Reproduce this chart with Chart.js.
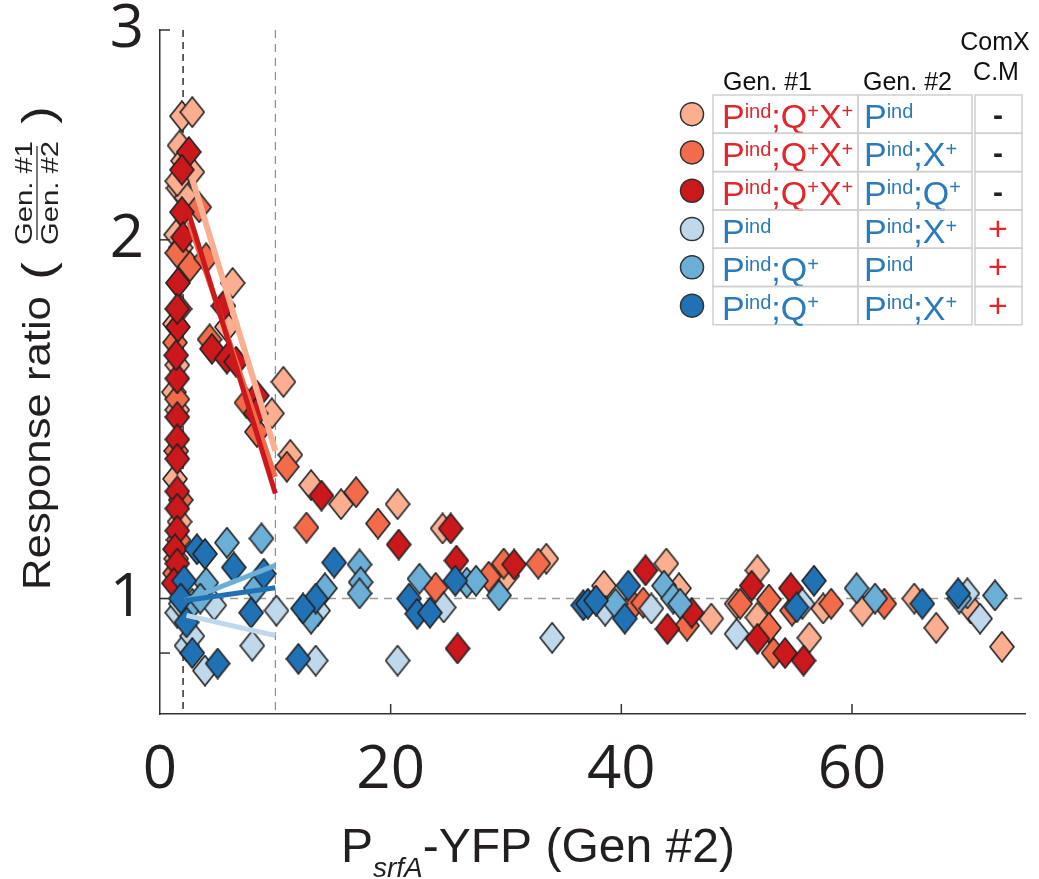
<!DOCTYPE html>
<html>
<head>
<meta charset="utf-8">
<script src="https://cdn.jsdelivr.net/npm/chart.js@4.4.0/dist/chart.umd.min.js"></script>
<style>
  html, body { margin: 0; padding: 0; background: #fff; }
  #wrap { width: 1039px; height: 879px; }
</style>
</head>
<body>
<div id="wrap"><canvas id="ratioChart" width="1039" height="879"></canvas></div>
<script>
  // colours of the six strain pairs (light red -> dark blue)
  const seriesColors = ['#fcae91', '#f26b4b', '#cb181d', '#c0d8eb', '#6baed6', '#2171b5'];

  // [PsrfA-YFP of Gen #2, response ratio Gen#1/Gen#2]
  const paleRed = [
    [1.9, 2.54], [2.8, 2.56], [1.7, 2.40], [2.0, 2.33], [2.8, 2.28], [1.6, 2.21], [2.3, 2.17], [1.5, 2.24],
    [1.4, 2.02], [1.8, 1.97], [1.3, 1.70], [1.5, 1.57], [1.2, 1.49], [1.5, 1.44], [1.3, 1.26], [1.7, 1.16],
    [1.4, 1.08], [6.3, 1.84], [5.8, 1.69], [9.7, 1.43], [10.7, 1.52], [11.3, 1.32], [13.1, 1.245], [15.7, 1.20],
    [20.6, 1.20], [24.5, 1.145], [30.1, 1.045], [33.5, 1.08], [38.5, 1.025], [43.9, 1.07], [45.0, 1.02],
    [47.8, 0.962], [50.0, 0.99], [51.8, 1.056], [51.8, 0.964], [56.3, 0.927], [57.5, 0.981], [60.9, 0.977],
    [65.4, 1.0], [67.3, 0.945], [70.3, 0.981], [73.0, 0.911]
  ];
  const midRed = [
    [1.5, 1.95], [2.6, 1.90], [1.3, 1.64], [1.7, 1.75], [1.5, 1.47], [1.4, 1.33], [1.8, 1.21], [1.3, 1.05],
    [1.6, 1.12], [3.4, 2.13], [4.0, 1.93], [4.3, 1.65], [7.5, 1.46], [8.4, 1.38], [11.0, 1.29], [12.7, 1.147],
    [17.0, 1.228], [18.9, 1.156], [23.9, 1.021], [28.5, 1.043], [29.8, 1.07], [32.8, 1.07], [41.0, 0.987],
    [41.9, 0.992], [45.7, 0.949], [50.3, 0.99], [52.8, 0.998], [52.8, 0.945], [53.2, 0.90], [54.8, 0.977],
    [58.2, 0.99], [62.8, 0.99]
  ];
  const darkRed = [
    [2.5, 2.37], [1.9, 2.29], [1.9, 2.11], [2.0, 2.01], [1.55, 1.84], [1.55, 1.69], [1.5, 1.53], [1.5, 1.42],
    [1.5, 1.36], [1.5, 1.31], [1.5, 1.23], [1.5, 1.19], [1.5, 1.14], [1.3, 1.10], [1.5, 1.07], [1.2, 1.03],
    [1.4, 1.60], [1.5, 1.75], [5.5, 1.76], [4.5, 1.62], [5.8, 1.59], [6.6, 1.58], [8.4, 1.48], [8.3, 1.43],
    [14.0, 1.22], [20.7, 1.11], [25.2, 1.145], [25.7, 1.076], [25.8, 0.908], [30.7, 1.068], [42.1, 1.056],
    [44.0, 0.943], [46.1, 0.973], [51.3, 1.025], [51.8, 0.925], [54.2, 0.90], [54.7, 1.02], [55.8, 0.887]
  ];
  const paleBlue = [
    [1.5, 0.973], [2.3, 0.913], [3.9, 0.87], [4.7, 0.987], [8.0, 0.913], [10.1, 0.977], [1.8, 0.99],
    [13.7, 0.977], [13.5, 0.887], [20.6, 0.887], [24.6, 0.983], [34.0, 0.927], [38.6, 0.977], [42.6, 0.981],
    [50.0, 0.934], [55.7, 0.99], [70.0, 1.01], [71.1, 0.962], [2.8, 0.93]
  ];
  const midBlue = [
    [5.8, 1.114], [8.8, 1.123], [4.0, 1.031], [8.3, 1.02], [2.8, 0.99], [14.3, 1.02], [17.3, 1.068],
    [17.4, 1.032], [17.3, 1.01], [13.1, 0.962], [22.5, 1.039], [26.6, 1.031], [27.4, 1.035], [29.4, 1.006],
    [39.5, 0.99], [43.7, 1.025], [44.5, 1.0], [45.1, 0.99], [60.4, 1.02], [62.0, 1.0], [69.3, 1.0],
    [72.4, 1.006], [3.5, 1.0]
  ];
  const darkBlue = [
    [3.2, 1.10], [3.9, 1.09], [6.4, 1.062], [2.1, 1.035], [9.0, 1.049], [2.3, 0.955], [7.9, 0.973],
    [2.8, 0.90], [5.0, 0.882], [1.8, 1.0], [15.1, 1.072], [13.5, 1.0], [12.4, 0.981], [12.0, 0.890],
    [21.6, 1.0], [22.3, 0.971], [23.4, 0.973], [25.6, 1.035], [36.7, 0.987], [37.1, 0.99], [37.8, 0.996],
    [40.6, 1.025], [40.3, 0.962], [55.2, 0.983], [56.7, 1.035], [66.1, 0.99], [69.2, 1.01]
  ];
  const seriesPoints = [paleRed, midRed, darkRed, paleBlue, midBlue, darkBlue];

  // fitted trend segments between the two dashed limits
  const fitLines = [
    [[2.8, 2.25], [10, 1.33]],
    [[2.5, 2.07], [10, 1.265]],
    [[2.4, 2.12], [10, 1.225]],
    [[2.3, 0.968], [10, 0.931]],
    [[2.2, 0.996], [10, 1.066]],
    [[2.2, 0.996], [10, 1.021]]
  ];
  const fitWidths = [6, 5, 5, 5, 5, 5];

  const xTickLabels = [0, 20, 40, 60];
  const xMarks = [20, 40, 60];
  const yTickLabels = [1, 2, 3];
  const yMarks = [0.9, 1, 2, 3];
  const limitLines = [2, 10];

  // legend table
  const gen1Labels = ['P^{ind};Q^{+}X^{+}', 'P^{ind};Q^{+}X^{+}', 'P^{ind};Q^{+}X^{+}', 'P^{ind}', 'P^{ind};Q^{+}', 'P^{ind};Q^{+}'];
  const gen2Labels = ['P^{ind}', 'P^{ind};X^{+}', 'P^{ind};Q^{+}', 'P^{ind};X^{+}', 'P^{ind}', 'P^{ind};X^{+}'];
  const comxLabels = ['-', '-', '-', '+', '+', '+'];

  const ink = '#231f20';
  const sans = '"Liberation Sans", Arial, sans-serif';

  function diamond(color) {
    const c = document.createElement('canvas');
    c.width = 26; c.height = 32;
    const g = c.getContext('2d');
    g.beginPath();
    g.moveTo(13, 1); g.lineTo(25, 16); g.lineTo(13, 31); g.lineTo(1, 16);
    g.closePath();
    g.fillStyle = color;
    g.fill();
    g.lineWidth = 1.6;
    g.strokeStyle = '#222';
    g.stroke();
    return c;
  }

  function richParts(s) {
    const out = [];
    const re = /\^\{([^}]*)\}/g;
    let last = 0, m;
    while ((m = re.exec(s))) {
      if (m.index > last) out.push({ t: s.slice(last, m.index), sup: false });
      out.push({ t: m[1], sup: true });
      last = re.lastIndex;
    }
    if (last < s.length) out.push({ t: s.slice(last), sup: false });
    return out;
  }

  function drawRich(ctx, s, x, y, size, color) {
    let cx = x;
    ctx.fillStyle = color;
    ctx.textAlign = 'left';
    ctx.textBaseline = 'alphabetic';
    for (const p of richParts(s)) {
      ctx.font = (p.sup ? Math.round(size * 0.58) : size) + 'px ' + sans;
      ctx.fillText(p.t, cx, p.sup ? y - size * 0.3 : y);
      cx += ctx.measureText(p.t).width;
    }
  }

  const decorations = {
    id: 'decorations',
    beforeDatasetsDraw(chart) {
      const { ctx, chartArea: a, scales: { x, y } } = chart;
      ctx.save();
      // reference level y = 1
      ctx.setLineDash([8, 6]);
      ctx.strokeStyle = '#9a9a9a';
      ctx.lineWidth = 1.5;
      const y1 = y.getPixelForValue(1);
      ctx.beginPath(); ctx.moveTo(a.left, y1); ctx.lineTo(a.right, y1); ctx.stroke();
      // PsrfA limits
      limitLines.forEach((v, i) => {
        const px = x.getPixelForValue(v);
        ctx.setLineDash(i === 0 ? [7, 5] : [8, 6]);
        ctx.strokeStyle = i === 0 ? '#111' : '#777';
        ctx.lineWidth = i === 0 ? 1.3 : 1;
        ctx.beginPath(); ctx.moveTo(px, a.top); ctx.lineTo(px, a.bottom); ctx.stroke();
      });
      ctx.restore();
    },
    afterDraw(chart) {
      const { ctx, chartArea: a, scales: { x, y } } = chart;
      ctx.save();
      // inward tick marks
      ctx.strokeStyle = '#333';
      ctx.lineWidth = 1.5;
      yMarks.forEach(v => {
        const py = y.getPixelForValue(v);
        ctx.beginPath(); ctx.moveTo(a.left, py); ctx.lineTo(a.left + 10, py); ctx.stroke();
      });
      xMarks.forEach(v => {
        const px = x.getPixelForValue(v);
        ctx.beginPath(); ctx.moveTo(px, a.bottom); ctx.lineTo(px, a.bottom - 10); ctx.stroke();
      });

      // tick labels
      ctx.fillStyle = ink;
      ctx.font = '60px "Open Sans", sans-serif';
      ctx.textBaseline = 'middle';
      ctx.textAlign = 'right';
      yTickLabels.forEach(v => ctx.fillText(String(v), a.left - 16, y.getPixelForValue(v)));
      ctx.textAlign = 'center';
      xTickLabels.forEach(v => ctx.fillText(String(v), x.getPixelForValue(v), 771));

      // x title: P_srfA-YFP (Gen #2)
      ctx.textBaseline = 'alphabetic';
      ctx.textAlign = 'left';
      let cx = 341;
      ctx.font = '48px ' + sans;
      ctx.fillText('P', cx, 862);
      cx += ctx.measureText('P').width;
      ctx.font = 'italic 28px ' + sans;
      ctx.fillText('srfA', cx, 877);
      cx += ctx.measureText('srfA').width;
      ctx.font = '48px ' + sans;
      ctx.fillText('-YFP (Gen #2)', cx, 862);

      // y title: Response ratio (Gen. #1 / Gen. #2)
      ctx.save();
      ctx.translate(50, 443);
      ctx.rotate(-Math.PI / 2);
      ctx.textAlign = 'center';
      ctx.save();
      ctx.scale(1.12, 1);
      ctx.font = '39px ' + sans;
      ctx.fillText('Response ratio', 0, 0);
      ctx.restore();
      ctx.save();
      ctx.scale(1.2, 1);
      ctx.font = '44px ' + sans;
      ctx.fillText('(', 172 / 1.2, 3);
      ctx.fillText(')', 328 / 1.2, 3);
      ctx.restore();
      ctx.save();
      ctx.scale(1.22, 1);
      ctx.font = '24px ' + sans;
      ctx.fillText('Gen. #1', 250 / 1.22, -18);
      ctx.fillText('Gen. #2', 250 / 1.22, 8);
      ctx.restore();
      ctx.lineWidth = 1.2;
      ctx.strokeStyle = ink;
      ctx.beginPath(); ctx.moveTo(203, -13); ctx.lineTo(297, -13); ctx.stroke();
      ctx.restore();

      // legend table
      ctx.font = '25px ' + sans;
      ctx.fillStyle = '#111';
      ctx.textAlign = 'left';
      ctx.fillText('Gen. #1', 723, 90);
      ctx.fillText('Gen. #2', 863, 90);
      ctx.textAlign = 'center';
      ctx.fillText('ComX', 995, 50);
      ctx.fillText('C.M', 996, 80);

      const top0 = 95, rowH = 38.3;
      seriesColors.forEach((col, i) => {
        const t = top0 + i * rowH;
        ctx.strokeStyle = '#cfcfcf';
        ctx.lineWidth = 1.5;
        ctx.strokeRect(713, t, 145, rowH);
        ctx.strokeRect(858, t, 114, rowH);
        ctx.strokeRect(975, t, 47, rowH);
        ctx.beginPath();
        ctx.arc(692, t + rowH / 2, 11.5, 0, Math.PI * 2);
        ctx.fillStyle = col;
        ctx.fill();
        ctx.strokeStyle = '#333';
        ctx.lineWidth = 1.5;
        ctx.stroke();
        drawRich(ctx, gen1Labels[i], 722, t + 33, 34, i < 3 ? '#e3262b' : '#2b7bba');
        drawRich(ctx, gen2Labels[i], 864, t + 33, 34, '#2b7bba');
        ctx.textAlign = 'center';
        ctx.font = (comxLabels[i] === '+' ? '34px ' : 'bold 30px ') + sans;
        ctx.fillStyle = comxLabels[i] === '+' ? '#e3262b' : '#222';
        ctx.fillText(comxLabels[i], 998, t + 30);
      });
      ctx.restore();
    }
  };

  const pointSets = seriesPoints.map((pts, i) => ({
    label: 'series ' + (i + 1),
    data: pts.map(p => ({ x: p[0], y: p[1] })),
    pointStyle: diamond(seriesColors[i]),
    pointRadius: 13,
    showLine: false,
    order: 20 - i
  }));

  const lineSets = fitLines.map((seg, i) => ({
    label: 'fit ' + (i + 1),
    data: seg.map(p => ({ x: p[0], y: p[1] })),
    showLine: true,
    borderColor: seriesColors[i],
    borderWidth: fitWidths[i],
    pointRadius: 0,
    order: 10 - i
  }));

  new Chart(document.getElementById('ratioChart'), {
    type: 'scatter',
    data: { datasets: pointSets.concat(lineSets) },
    options: {
      responsive: false,
      animation: false,
      layout: { padding: { top: 30, right: 8, left: 0, bottom: 0 } },
      plugins: { legend: { display: false }, tooltip: { enabled: false } },
      scales: {
        x: {
          type: 'linear', min: 0, max: 75,
          grid: { display: false },
          ticks: { display: false },
          border: { display: true, color: '#333', width: 1.5 },
          afterFit(s) { s.height = 165; }
        },
        y: {
          type: 'logarithmic', min: 0.8, max: 3,
          grid: { display: false },
          ticks: { display: false },
          border: { display: true, color: '#333', width: 1.5 },
          afterFit(s) { s.width = 160; }
        }
      }
    },
    plugins: [decorations]
  });
</script>
</body>
</html>
